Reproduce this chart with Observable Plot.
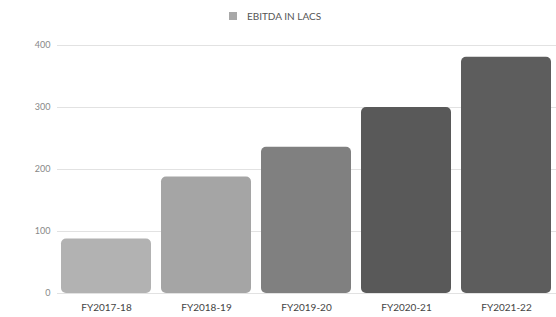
<!DOCTYPE html>
<html><head><meta charset="utf-8">
<script src="https://cdn.jsdelivr.net/npm/d3@7"></script>
<script src="https://cdn.jsdelivr.net/npm/@observablehq/plot@0.6"></script>
<style>
body{margin:0;background:#fff;font-family:Lato,"Open Sans",sans-serif;}
#legend{height:30px;display:flex;align-items:center;justify-content:center;font-size:10px;color:#555;padding-right:6px;padding-top:2px;box-sizing:border-box;}
#legend span.sw{display:inline-block;width:8px;height:8px;background:#a8a8a8;margin-right:10px;}
</style></head>
<body>
<div id="legend"><span class="sw"></span><span>EBITDA IN LACS</span></div>
<div id="chart"></div>
<script>
const years = ["FY2017-18","FY2018-19","FY2019-20","FY2020-21","FY2021-22"];
const ebitda = [88, 188, 236, 300, 381];
const barColors = ["#b2b2b2","#a5a5a5","#808080","#595959","#5d5d5d"];
const yTicks = [0, 100, 200, 300, 400];

const data = years.map((y, i) => ({year: y, value: ebitda[i], color: barColors[i]}));

const chart = Plot.plot({
  width: 556,
  height: 287,
  marginLeft: 57,
  marginRight: 0,
  marginTop: 15,
  marginBottom: 24,
  style: {fontFamily: "Lato, 'Open Sans', sans-serif", background: "#fff"},
  x: {domain: years, paddingInner: 0.1, paddingOuter: 0.03, label: null},
  y: {domain: [0, 400], label: null},
  marks: [
    Plot.gridY(yTicks, {stroke: "#e2e2e2", strokeOpacity: 1, strokeWidth: 1}),
    Plot.barY(data, {x: "year", y: "value", fill: "color", rx: 5}),
    Plot.axisY(yTicks, {tickSize: 0, tickPadding: 7, fontSize: 9, fill: "#888", label: null}),
    Plot.axisX({tickSize: 0, tickPadding: 10, fontSize: 10, fill: "#444", label: null})
  ]
});
document.getElementById("chart").append(chart);
</script>
</body></html>
